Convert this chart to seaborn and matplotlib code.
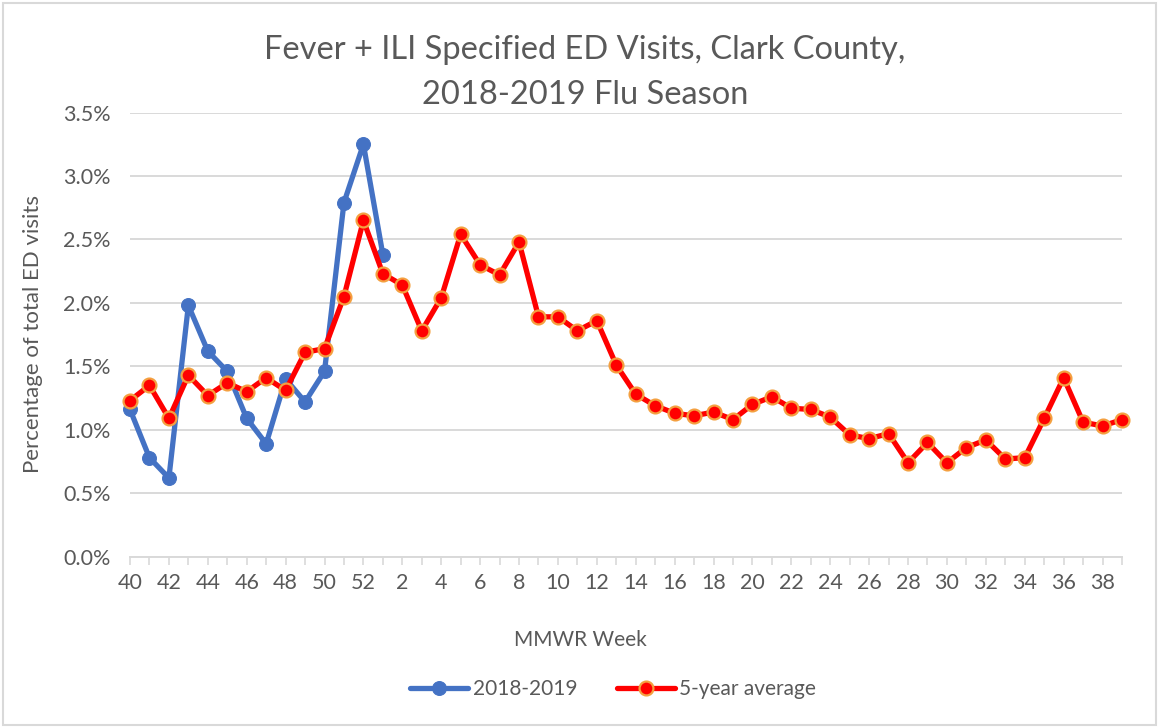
import matplotlib
matplotlib.use("Agg")
import matplotlib.pyplot as plt
import seaborn as sns
import pandas as pd
from matplotlib.patches import Rectangle
from matplotlib.ticker import FuncFormatter

# MMWR weeks of the flu season (week 40 through week 39)
weeks = list(range(40, 53)) + list(range(1, 40))

# % of total ED visits, 2018-2019 season (reported through week 1)
season_2018_2019 = [1.16, 0.78, 0.62, 1.98, 1.62, 1.46, 1.09, 0.89, 1.40, 1.22,
                    1.46, 2.79, 3.25, 2.38]

# 5-year average
five_year_avg = [1.23, 1.35, 1.09, 1.43, 1.27, 1.37, 1.30, 1.41, 1.31, 1.61,
                 1.64, 2.05, 2.65, 2.23, 2.14, 1.78, 2.04, 2.54, 2.30, 2.22,
                 2.48, 1.89, 1.89, 1.78, 1.86, 1.51, 1.28, 1.19, 1.13, 1.11,
                 1.14, 1.08, 1.20, 1.26, 1.17, 1.16, 1.10, 0.96, 0.93, 0.97,
                 0.74, 0.90, 0.74, 0.86, 0.92, 0.77, 0.78, 1.09, 1.41, 1.06,
                 1.03, 1.08]

y_ticks = [0.0, 0.5, 1.0, 1.5, 2.0, 2.5, 3.0, 3.5]

sns.set_theme(style="white")
plt.rcParams["font.family"] = ["Lato", "DejaVu Sans"]

text_color = "#595959"
grid_color = "#D9D9D9"

df_cur = pd.DataFrame({"pos": range(len(season_2018_2019)), "pct": season_2018_2019})
df_avg = pd.DataFrame({"pos": range(len(five_year_avg)), "pct": five_year_avg})

fig = plt.figure(figsize=(11.59, 7.28), dpi=100)
ax = fig.add_axes([130 / 1159, 1 - 556.7 / 728, 992 / 1159, 444.2 / 728])

sns.lineplot(data=df_cur, x="pos", y="pct", ax=ax, color="#4472C4", lw=3.8,
             marker="o", markersize=10, markeredgecolor="#4472C4",
             label="2018-2019", zorder=3, clip_on=False)
sns.lineplot(data=df_avg, x="pos", y="pct", ax=ax, color="#FF0000", lw=3.8,
             marker="o", markersize=10, markeredgecolor="#F4A040",
             markeredgewidth=1.6, label="5-year average", zorder=4, clip_on=False)

ax.set_xlim(0, len(weeks) - 1)
ax.set_ylim(0, 3.5)
ax.set_yticks(y_ticks)
ax.yaxis.set_major_formatter(FuncFormatter(lambda v, p: f"{v:.1f}%"))
ax.set_xticks(range(len(weeks)))
ax.set_xticklabels([str(w) if i % 2 == 0 else "" for i, w in enumerate(weeks)])

ax.yaxis.grid(True, color=grid_color, lw=1.4)
ax.set_axisbelow(True)
for s in ["top", "right", "left"]:
    ax.spines[s].set_visible(False)
ax.spines["bottom"].set_color(grid_color)
ax.spines["bottom"].set_linewidth(1.4)

ax.tick_params(axis="x", bottom=True, direction="out", length=6, width=1.2,
               color=grid_color, labelcolor=text_color, labelsize=15.5, pad=6)
ax.tick_params(axis="y", left=False, labelcolor=text_color, labelsize=15.5, pad=8)

ax.set_xlabel("")
ax.set_ylabel("")
ax.get_legend().remove()

fig.text(585 / 1159, 1 - 50 / 728, "Fever + ILI Specified ED Visits, Clark County,",
         ha="center", va="center", fontsize=23.5, color=text_color)
fig.text(585 / 1159, 1 - 95 / 728, "2018-2019 Flu Season",
         ha="center", va="center", fontsize=23.5, color=text_color)
fig.text(33 / 1159, 1 - 334 / 728, "Percentage of total ED visits", rotation=90,
         ha="center", va="center", fontsize=16, color=text_color)
fig.text(580 / 1159, 1 - 640 / 728, "MMWR Week",
         ha="center", va="center", fontsize=15, color=text_color)

handles, labels = ax.get_legend_handles_labels()
fig.legend(handles, labels, loc="center", bbox_to_anchor=(613 / 1159, 1 - 689 / 728),
           ncol=2, frameon=False, fontsize=15, labelcolor=text_color,
           handlelength=2.8, handletextpad=0.2, columnspacing=1.9)

fig.patches.append(Rectangle((0.003, 0.004), 0.994, 0.992, transform=fig.transFigure,
                             fill=False, edgecolor=grid_color, lw=1.5))

fig.savefig("out.png", dpi=100)
